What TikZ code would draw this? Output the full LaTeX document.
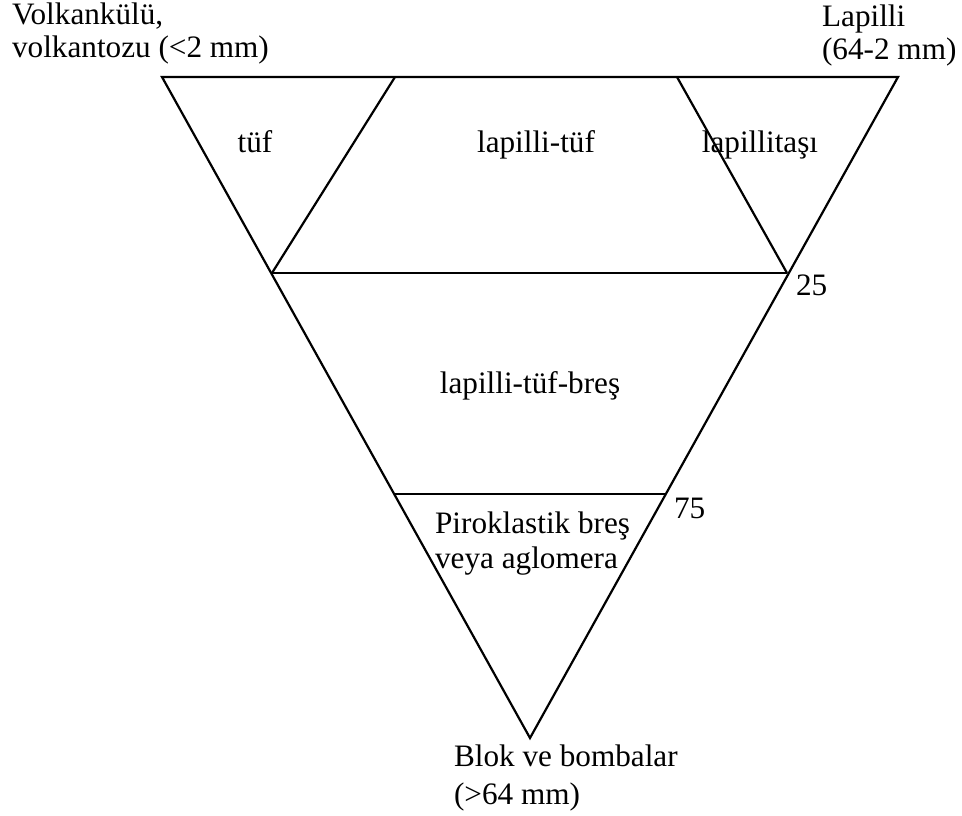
\documentclass[tikz,border=0pt]{standalone}
\usepackage{fontspec}
\setmainfont{Liberation Serif}

\begin{document}
\begin{tikzpicture}[
	x=1pt, y=-1pt,
	line width=2.2pt,
	every node/.style={font=\fontsize{31.2}{33}\selectfont, inner sep=0pt},
	zone/.style={anchor=base, align=center},
	corner/.style={anchor=base west, align=left},
	level/.style={anchor=base west}
]
\useasboundingbox (0,0) rectangle (962,816);

% corners of the triangle
\coordinate (tl) at (162,77);
\coordinate (tr) at (898,77);
\coordinate (bot) at (530,738);
% ends of the inner lines
\coordinate (tuf top) at (395,77);
\coordinate (taş top) at (677,77);
\coordinate (l25) at (272,273);
\coordinate (r25) at (787,273);
\coordinate (l75) at (394,494);
\coordinate (r75) at (665,494);

\draw (tl) -- (tr) -- (bot) -- cycle;
\draw (l25) -- (r25);
\draw (l75) -- (r75);
\draw (tuf top) -- (l25);
\draw (taş top) -- (r25);

% fields
\node[zone] (tuf) at (255,152) {tüf};
\node[zone] (lapilli tuf) at (536,152) {lapilli-tüf};
\node[zone] (lapillitasi) at (760,152) {lapillitaşı};
\node[zone] (breccia) at (530,393) {lapilli-tüf-breş};
\node[corner, font=\fontsize{31.2}{35}\selectfont] (piro) at (434,568) {Piroklastik breş\\veya aglomera};

% end members
\node[corner] (ash) at (11,58) {Volkankülü,\\volkantozu (<2 mm)};
\node[corner] (lapilli) at (821,60) {Lapilli\\(64-2 mm)};
\node[corner, font=\fontsize{31.2}{38}\selectfont] (blocks) at (453,804) {Blok ve bombalar\\(>64 mm)};

% percentages
\node[level] (p25) at (795,295) {25};
\node[level] (p75) at (673,518) {75};
\end{tikzpicture}
\end{document}
